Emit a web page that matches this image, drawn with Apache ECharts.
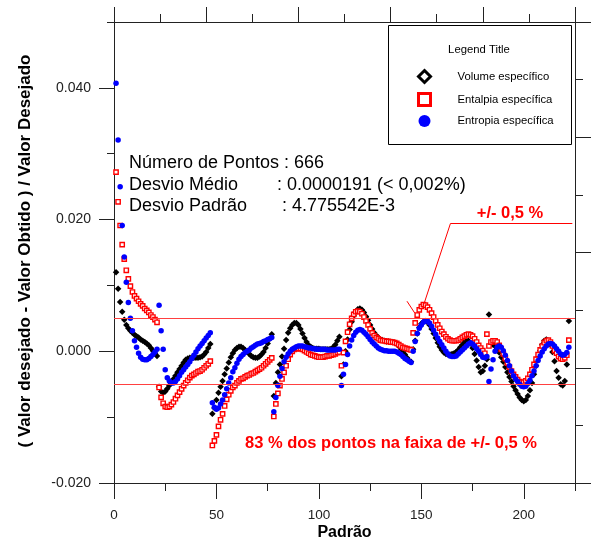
<!DOCTYPE html>
<html>
<head>
<meta charset="utf-8">
<script src="https://cdn.jsdelivr.net/npm/echarts@6/dist/echarts.min.js"></script>
<style>html,body{margin:0;padding:0;background:#fff}#c{width:598px;height:542px}</style>
</head>
<body>
<div id="c"></div>
<script>
// ---- data (Padrão index 1..222, one value per pattern) ----
const seriesNames = ['Volume específico', 'Entalpia específica', 'Entropia específica'];

const volume = [
 0.0120,0.0095,0.0075,0.0060,0.0048,0.0040,0.0035,0.0031,0.0028,0.0025,0.0023,0.0021,0.0018,0.0016,0.0014,0.0012,0.0009,0.0005,0.0001,-0.0003,-0.0007,
 -0.0054,-0.0061,-0.0063,-0.0061,-0.0057,-0.0052,-0.0047,-0.0042,-0.0037,-0.0032,-0.0027,-0.0022,-0.0017,-0.0013,-0.0011,-0.0010,-0.0010,-0.0010,-0.0010,-0.0010,-0.0009,-0.0008,-0.0005,-0.0001,0.0005,0.0011,
 -0.0095,-0.0086,-0.0074,-0.0063,-0.0054,-0.0045,-0.0035,-0.0026,-0.0017,-0.0009,-0.0003,0.0002,0.0005,0.0007,0.0007,0.0005,0.0002,-0.0001,-0.0004,-0.0007,-0.0009,-0.0010,-0.0010,-0.0008,-0.0005,-0.0001,0.0005,0.0012,0.0019,0.0026,
 -0.0068,-0.0048,-0.0032,-0.0020,-0.0008,0.0004,0.0017,0.0028,0.0035,0.0040,0.0043,0.0043,0.0040,0.0034,0.0027,0.0020,0.0014,0.0009,0.0007,0.0005,0.0004,0.0004,0.0004,0.0003,0.0003,0.0003,0.0003,0.0003,0.0004,0.0006,0.0010,0.0016,0.0022,
 -0.0038,-0.0020,0.0000,0.0018,0.0033,0.0045,0.0054,0.0060,0.0064,0.0065,0.0063,0.0059,0.0053,0.0047,0.0040,0.0034,0.0028,0.0024,0.0021,0.0018,0.0017,0.0016,0.0015,0.0015,0.0014,0.0014,0.0013,0.0011,0.0008,0.0004,0.0000,-0.0005,-0.0010,-0.0014,-0.0016,
 0.0003,0.0016,0.0027,0.0036,0.0042,0.0045,0.0046,0.0044,0.0040,0.0034,0.0027,0.0020,0.0013,0.0007,0.0002,-0.0002,-0.0004,-0.0005,-0.0005,-0.0004,-0.0003,-0.0001,0.0002,0.0006,0.0010,0.0014,0.0016,0.0016,0.0012,0.0005,-0.0004,-0.0014,-0.0024,-0.0032,-0.0030,-0.0022,-0.0012,
 0.0056,0.0012,0.0010,0.0008,0.0004,-0.0002,-0.0009,-0.0016,-0.0024,-0.0032,-0.0039,-0.0046,-0.0053,-0.0059,-0.0065,-0.0070,-0.0074,-0.0076,-0.0074,-0.0068,-0.0059,-0.0048,-0.0035,-0.0022,-0.0010,0.0001,0.0010,0.0016,0.0018,0.0016,0.0010,-0.0001,-0.0015,-0.0030,-0.0040,-0.0050,-0.0052,-0.0045,-0.0020,0.0046
];

const entalpia = [
 0.0272,0.0227,0.0191,0.0162,0.0140,0.0123,0.0110,0.0099,0.0090,0.0084,0.0080,0.0076,0.0072,0.0069,0.0065,0.0062,0.0059,0.0055,0.0052,0.0048,0.0044,
 -0.0055,-0.0070,-0.0079,-0.0084,-0.0085,-0.0084,-0.0081,-0.0077,-0.0072,-0.0067,-0.0062,-0.0057,-0.0052,-0.0048,-0.0044,-0.0040,-0.0037,-0.0035,-0.0033,-0.0031,-0.0030,-0.0028,-0.0025,-0.0022,-0.0019,-0.0015,
 -0.0143,-0.0136,-0.0127,-0.0114,-0.0104,-0.0095,-0.0083,-0.0073,-0.0066,-0.0060,-0.0055,-0.0052,-0.0048,-0.0045,-0.0042,-0.0041,-0.0039,-0.0037,-0.0036,-0.0034,-0.0033,-0.0031,-0.0029,-0.0027,-0.0025,-0.0022,-0.0019,-0.0016,-0.0013,-0.0010,
 -0.0099,-0.0080,-0.0064,-0.0052,-0.0042,-0.0032,-0.0022,-0.0012,-0.0005,0.0000,0.0003,0.0004,0.0004,0.0004,0.0003,0.0001,-0.0001,-0.0003,-0.0005,-0.0006,-0.0007,-0.0008,-0.0009,-0.0009,-0.0009,-0.0008,-0.0007,-0.0007,-0.0006,-0.0005,-0.0004,-0.0002,-0.0001,
 -0.0022,-0.0002,0.0015,0.0029,0.0041,0.0050,0.0056,0.0060,0.0061,0.0060,0.0057,0.0052,0.0046,0.0040,0.0034,0.0028,0.0024,0.0021,0.0019,0.0017,0.0016,0.0016,0.0015,0.0015,0.0014,0.0014,0.0013,0.0012,0.0010,0.0008,0.0006,0.0005,0.0004,0.0003,0.0002,
 0.0028,0.0043,0.0055,0.0063,0.0068,0.0071,0.0070,0.0067,0.0063,0.0058,0.0052,0.0046,0.0040,0.0035,0.0030,0.0026,0.0022,0.0019,0.0017,0.0016,0.0016,0.0016,0.0017,0.0019,0.0021,0.0023,0.0025,0.0026,0.0025,0.0023,0.0019,0.0014,0.0009,0.0005,0.0001,-0.0003,0.0026,
 0.0008,0.0014,0.0016,0.0016,0.0014,0.0009,0.0003,-0.0004,-0.0011,-0.0018,-0.0024,-0.0030,-0.0035,-0.0039,-0.0043,-0.0046,-0.0047,-0.0047,-0.0045,-0.0041,-0.0035,-0.0028,-0.0020,-0.0012,-0.0005,0.0002,0.0008,0.0013,0.0016,0.0017,0.0014,0.0008,0.0001,-0.0003,-0.0008,-0.0011,-0.0012,-0.0010,-0.0006,0.0017
];

const entropia = [
 0.0407,0.0321,0.0250,0.0191,0.0143,0.0105,0.0074,0.0050,0.0031,0.0016,0.0006,-0.0003,-0.0009,-0.0012,-0.0013,-0.0013,-0.0011,-0.0008,-0.0005,-0.0001,0.0003,
 0.0070,0.0031,0.0003,-0.0028,-0.0040,-0.0045,-0.0048,-0.0048,-0.0046,-0.0042,-0.0037,-0.0032,-0.0028,-0.0024,-0.0020,-0.0016,-0.0011,-0.0006,-0.0001,0.0004,0.0008,0.0012,0.0016,0.0020,0.0024,0.0028,
 -0.0078,-0.0085,-0.0088,-0.0086,-0.0080,-0.0074,-0.0066,-0.0057,-0.0048,-0.0040,-0.0031,-0.0025,-0.0018,-0.0012,-0.0008,-0.0005,-0.0002,0.0000,0.0002,0.0005,0.0007,0.0009,0.0011,0.0012,0.0013,0.0015,0.0016,0.0018,0.0019,0.0021,
 -0.0092,-0.0070,-0.0052,-0.0038,-0.0026,-0.0016,-0.0009,-0.0004,0.0000,0.0003,0.0005,0.0007,0.0008,0.0008,0.0008,0.0007,0.0006,0.0005,0.0005,0.0004,0.0004,0.0003,0.0003,0.0003,0.0003,0.0003,0.0002,0.0002,0.0002,0.0002,0.0002,0.0003,0.0003,
 -0.0052,-0.0035,-0.0020,-0.0005,0.0008,0.0017,0.0024,0.0029,0.0032,0.0033,0.0032,0.0029,0.0026,0.0022,0.0018,0.0014,0.0011,0.0008,0.0005,0.0003,0.0002,0.0001,0.0001,0.0000,0.0000,0.0000,0.0000,-0.0001,-0.0003,-0.0005,-0.0008,-0.0011,-0.0013,-0.0015,-0.0017,
 0.0000,0.0015,0.0027,0.0035,0.0040,0.0044,0.0046,0.0046,0.0043,0.0038,0.0032,0.0026,0.0020,0.0015,0.0010,0.0005,0.0000,-0.0004,-0.0007,-0.0008,-0.0008,-0.0007,-0.0004,-0.0001,0.0002,0.0005,0.0008,0.0011,0.0013,0.0011,0.0008,0.0004,0.0000,-0.0005,-0.0009,-0.0010,-0.0008,
 -0.0046,-0.0027,-0.0013,0.0000,0.0006,0.0008,0.0006,0.0001,-0.0006,-0.0014,-0.0022,-0.0030,-0.0037,-0.0042,-0.0046,-0.0050,-0.0053,-0.0054,-0.0053,-0.0049,-0.0044,-0.0037,-0.0030,-0.0022,-0.0014,-0.0007,-0.0001,0.0004,0.0008,0.0011,0.0012,0.0011,0.0008,0.0004,0.0000,-0.0004,-0.0006,-0.0005,-0.0002,0.0006
];

// tick values
const xMajorTicks = [0, 50, 100, 150, 200];
const xMinorTicks = [25, 75, 125, 175, 225];
const yMajorTicks = [-0.02, 0, 0.02, 0.04];
const yMinorTicks = [-0.01, 0.01, 0.03, 0.05];
const topMajorTicks = [0, 2, 4, 6, 8, 10];
const topMinorTicks = [1, 3, 5, 7, 9];
const rightMajorTicks = [0, 2, 4, 6, 8];
const rightMinorTicks = [1, 3, 5, 7];
const bandLimits = [0.005, -0.005];
const xRange = [0, 225];

// annotation texts
const statLines = [
  ['Número de Pontos : 666', ''],
  ['Desvio Médio', ': 0.0000191 (< 0,002%)'],
  ['Desvio Padrão', ': 4.775542E-3']
];
const bandLabel = '+/- 0,5 %';
const bandNote = '83 % dos pontos na faixa de +/- 0,5 %';

const FONT = '"Liberation Sans", Arial, sans-serif';
const AX = '#222';

function pairs(arr) { return arr.map((v, i) => [i + 1, v]); }

function tickAxis(pos, min, max, values, len, showLine, extra) {
  return Object.assign({
    type: 'value', position: pos, min: min, max: max,
    axisLine: { show: showLine, onZero: false, lineStyle: { color: AX, width: 1 } },
    axisTick: { show: true, inside: false, length: len, customValues: values, lineStyle: { color: AX, width: 1 } },
    axisLabel: { show: false },
    splitLine: { show: false }
  }, extra || {});
}

const chart = echarts.init(document.getElementById('c'), null, { renderer: 'canvas' });

const band = { color: '#ff4040', width: 1, type: 'solid', opacity: 1 };
const leader = { color: '#ff0000', width: 1, type: 'solid', opacity: 1 };

chart.setOption({
  animation: false,
  backgroundColor: '#fff',
  grid: { left: 114, top: 22, right: 23, bottom: 59, outerBoundsMode: 'none', containLabel: false },
  xAxis: [
    tickAxis('bottom', xRange[0], xRange[1], xMajorTicks, 16, true, {
      axisLabel: { show: true, customValues: xMajorTicks, margin: 25, color: AX, fontSize: 13.5, fontFamily: FONT }
    }),
    tickAxis('bottom', xRange[0], xRange[1], xMinorTicks, 8, false),
    tickAxis('top', 0, 10, topMajorTicks, 15, true),
    tickAxis('top', 0, 10, topMinorTicks, 8, false)
  ],
  yAxis: [
    tickAxis('left', -0.02, 0.05, yMajorTicks, 15, true, {
      axisLabel: { show: true, customValues: yMajorTicks, margin: 23, color: AX, fontSize: 14, fontFamily: FONT,
        formatter: v => v.toFixed(3) }
    }),
    tickAxis('left', -0.02, 0.05, yMinorTicks, 7, false),
    tickAxis('right', 0, 8, rightMajorTicks, 16, true),
    tickAxis('right', 0, 8, rightMinorTicks, 8, false)
  ],
  legend: {
    show: true, orient: 'vertical', left: 417, top: 69, z: 10,
    itemWidth: 12, itemHeight: 12, itemGap: 8, padding: 0,
    selectedMode: false,
    textStyle: { fontSize: 11.3, fontFamily: FONT, color: '#000', padding: [0, 0, 0, 22], lineHeight: 12 },
    data: [
      { name: seriesNames[0], icon: 'diamond', itemStyle: { color: '#fff', borderColor: '#000', borderWidth: 3, opacity: 1 } },
      { name: seriesNames[1], icon: 'rect', itemStyle: { color: '#fff', borderColor: '#ff0000', borderWidth: 3, opacity: 1 } },
      { name: seriesNames[2], icon: 'circle', itemStyle: { color: '#0000ff', borderWidth: 0, opacity: 1 } }
    ]
  },
  series: [
    {
      name: seriesNames[0], type: 'scatter', xAxisIndex: 0, yAxisIndex: 0,
      symbol: 'diamond', symbolSize: 6.5, itemStyle: { color: '#000', opacity: 1 },
      emphasis: { disabled: true }, data: pairs(volume),
      markLine: {
        silent: true, symbol: ['none', 'none'], label: { show: false }, animation: false, precision: 6,
        lineStyle: band,
        data: [
          [{ coord: [xRange[0], bandLimits[0]], lineStyle: band }, { coord: [xRange[1], bandLimits[0]] }],
          [{ coord: [xRange[0], bandLimits[1]], lineStyle: band }, { coord: [xRange[1], bandLimits[1]] }],
          [{ coord: [223.7, 0.0194], lineStyle: leader }, { coord: [164.2, 0.0194] }],
          [{ coord: [164.2, 0.0194], lineStyle: leader }, { coord: [151.5, 0.0074] }],
          [{ coord: [143.0, 0.0076], lineStyle: leader }, { coord: [146.8, 0.0058] }]
        ]
      }
    },
    {
      name: seriesNames[1], type: 'scatter', xAxisIndex: 0, yAxisIndex: 0,
      symbol: 'rect', symbolSize: 4.3, itemStyle: { color: '#fff', borderColor: '#ff0000', borderWidth: 1.4, opacity: 1 },
      emphasis: { disabled: true }, data: pairs(entalpia)
    },
    {
      name: seriesNames[2], type: 'scatter', xAxisIndex: 0, yAxisIndex: 0,
      symbol: 'circle', symbolSize: 5.5, itemStyle: { color: '#0000ff', opacity: 1 },
      emphasis: { disabled: true }, data: pairs(entropia)
    }
  ],
  graphic: [
    { type: 'rect', z: 3, shape: { x: 388.5, y: 25.5, width: 183, height: 119 },
      style: { fill: '#fff', stroke: '#000', lineWidth: 1 } },
    { type: 'text', z: 4, x: 479, y: 50,
      style: { text: 'Legend Title', font: '11.3px ' + FONT, fill: '#000', align: 'center', verticalAlign: 'middle' } },
    { type: 'text', z: 4, x: 129, y: 163,
      style: { text: statLines[0][0], font: '18px ' + FONT, fill: '#000', align: 'left', verticalAlign: 'middle' } },
    { type: 'text', z: 4, x: 129, y: 185,
      style: { text: statLines[1][0], font: '18px ' + FONT, fill: '#000', align: 'left', verticalAlign: 'middle' } },
    { type: 'text', z: 4, x: 277, y: 185,
      style: { text: statLines[1][1], font: '18px ' + FONT, fill: '#000', align: 'left', verticalAlign: 'middle' } },
    { type: 'text', z: 4, x: 129, y: 206,
      style: { text: statLines[2][0], font: '18px ' + FONT, fill: '#000', align: 'left', verticalAlign: 'middle' } },
    { type: 'text', z: 4, x: 282, y: 206,
      style: { text: statLines[2][1], font: '18px ' + FONT, fill: '#000', align: 'left', verticalAlign: 'middle' } },
    { type: 'text', z: 4, x: 510, y: 213,
      style: { text: bandLabel, font: 'bold 16.5px ' + FONT, fill: '#ff0000', align: 'center', verticalAlign: 'middle' } },
    { type: 'text', z: 4, x: 245, y: 443,
      style: { text: bandNote, font: 'bold 16.5px ' + FONT, fill: '#ff0000', align: 'left', verticalAlign: 'middle' } },
    { type: 'text', z: 4, x: 344.5, y: 533,
      style: { text: 'Padrão', font: 'bold 16px ' + FONT, fill: '#000', align: 'center', verticalAlign: 'middle' } },
    { type: 'text', z: 4, x: 25, y: 251, rotation: Math.PI / 2,
      style: { text: '( Valor desejado - Valor Obtido ) / Valor Desejado', font: 'bold 17px ' + FONT, fill: '#000', align: 'center', verticalAlign: 'middle' } }
  ]
});
</script>
</body>
</html>
